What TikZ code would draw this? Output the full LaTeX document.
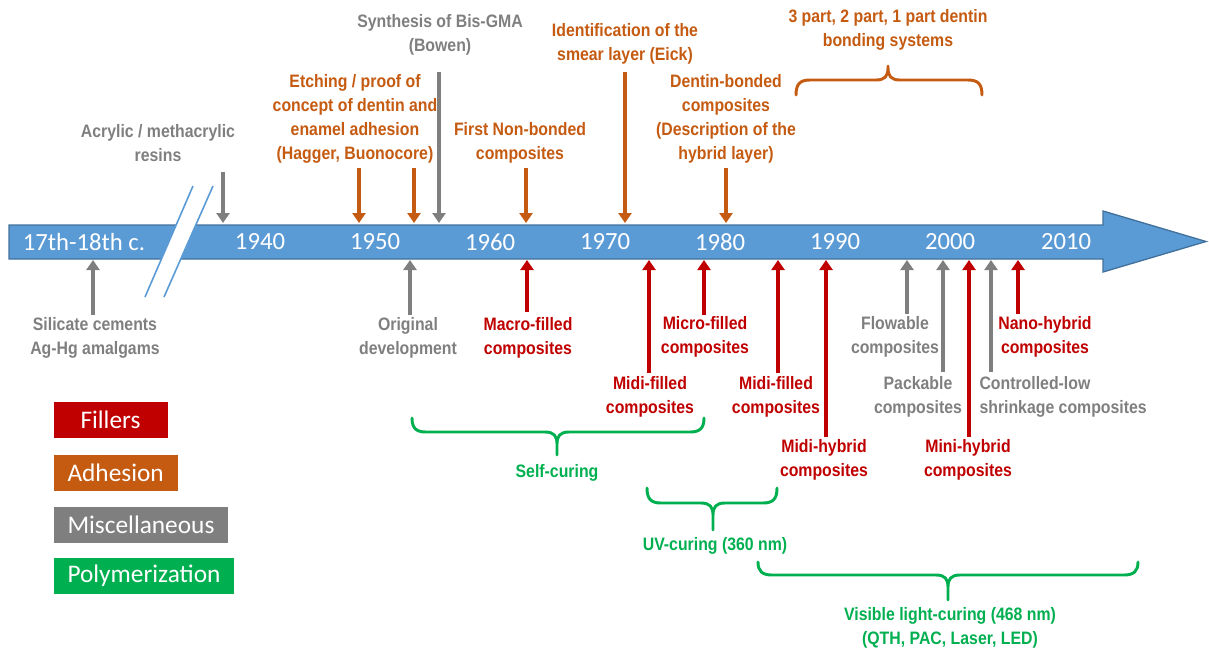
\documentclass[tikz,border=0pt]{standalone}
\usepackage{fontspec}
\setmainfont{Liberation Sans}
\newfontfamily\lblfont[FakeStretch=0.88]{Liberation Sans Bold}
\newfontfamily\calfont{Carlito}
\usetikzlibrary{arrows.meta}

\definecolor{fillred}{RGB}{192,0,0}
\definecolor{adhorange}{RGB}{197,90,17}
\definecolor{miscgrey}{RGB}{127,127,127}
\definecolor{polygreen}{RGB}{0,176,80}
\definecolor{barblue}{RGB}{91,155,213}
\definecolor{barline}{RGB}{65,113,156}

\tikzset{every picture/.style={line width=0.75pt},
  lbl/.style={font=\lblfont\fontsize{13.5}{18}\selectfont, align=center, inner sep=0pt},
  yr/.style={font=\calfont\fontsize{18.5}{20}\selectfont, text=white, inner sep=0pt},
  key/.style={font=\calfont\fontsize{19}{22}\selectfont, text=white, anchor=west, minimum width=85.5pt, minimum height=27pt, inner xsep=10.5pt},
  arr/.style={line width=2.6pt, -{Triangle[length=7.5pt,width=9.75pt]}},
  brc/.style={line width=2.2pt, line cap=round, line join=round}}

% brace: style, x left, x right, x tip, y ends, y flat part, y tip, direction (1 down, -1 up)
\newcommand{\tlbrace}[8]{%
  \draw[brc,#1] (#2,#5) .. controls (#2,#6-4*#8) and (#2+4,#6) .. (#2+14,#6) -- (#4-12,#6)
    .. controls (#4-3,#6) and (#4,#6+4*#8) .. (#4,#6+12*#8) -- (#4,#7) -- (#4,#6+12*#8)
    .. controls (#4,#6+4*#8) and (#4+3,#6) .. (#4+12,#6) -- (#3-14,#6)
    .. controls (#3-4,#6) and (#3,#6-4*#8) .. (#3,#5);}

\begin{document}
\begin{tikzpicture}[x=0.75pt,y=0.75pt,yscale=-1,xscale=1]
\useasboundingbox (0,0) rectangle (1209,651);

%Timeline bar
\draw[barline, fill=barblue, line width=1pt] (9,225) -- (1103,225) -- (1103,211) -- (1206,241.5) -- (1103,272) -- (1103,259) -- (9,259) -- cycle;
\coordinate (bartop) at (0,223);
\coordinate (barbot) at (0,260);
%Break
\fill[white] (145,297) -- (193,186) -- (213,186) -- (164,297) -- cycle;
\draw[barblue, line width=1.2pt] (145,297) -- (193,186);
\draw[barblue, line width=1.2pt] (164,297) -- (213,186);

%Years
\node[yr] (y17) at (84,242) {17th-18th c.};
\node[yr] (y40) at (260,242) {1940};
\node[yr] (y50) at (375,242) {1950};
\node[yr] (y60) at (490,242) {1960};
\node[yr] (y70) at (605,242) {1970};
\node[yr] (y80) at (720,242) {1980};
\node[yr] (y90) at (835,242) {1990};
\node[yr] (y00) at (950,242) {2000};
\node[yr] (y10) at (1066,242) {2010};

%Labels above
\node[lbl, text=miscgrey] (acr) at (158,143) {Acrylic / methacrylic\\resins};
\node[lbl, text=miscgrey] (bis) at (440,35) {Synthesis of Bis-GMA\\(Bowen)};
\node[lbl, text=adhorange] (etch) at (355,119) {Etching / proof of\\concept of dentin and\\enamel adhesion\\(Hagger, Buonocore)};
\node[lbl, text=adhorange] (first) at (520,143) {First Non-bonded\\composites};
\node[lbl, text=adhorange] (smear) at (625,44) {Identification of the\\smear layer (Eick)};
\node[lbl, text=adhorange] (dent) at (726,119) {Dentin-bonded\\composites\\(Description of the\\hybrid layer)};
\node[lbl, text=adhorange] (parts) at (888,30) {3 part, 2 part, 1 part dentin\\bonding systems};

%Labels below
\node[lbl, text=miscgrey] (sil) at (95,338) {Silicate cements\\Ag-Hg amalgams};
\node[lbl, text=miscgrey] (orig) at (408,338) {Original\\development};
\node[lbl, text=fillred] (macro) at (528,338) {Macro-filled\\composites};
\node[lbl, text=fillred] (micro) at (705,337) {Micro-filled\\composites};
\node[lbl, text=fillred] (midi1) at (650,397) {Midi-filled\\composites};
\node[lbl, text=fillred] (midi2) at (776,397) {Midi-filled\\composites};
\node[lbl, text=fillred] (midihyb) at (824,460) {Midi-hybrid\\composites};
\node[lbl, text=miscgrey] (flow) at (895,337) {Flowable\\composites};
\node[lbl, text=miscgrey] (pack) at (918,397) {Packable\\composites};
\node[lbl, text=miscgrey, align=left, anchor=west] (ctrl) at (979,397) {Controlled-low\\shrinkage composites};
\node[lbl, text=fillred] (nano) at (1045,337) {Nano-hybrid\\composites};
\node[lbl, text=fillred] (minihyb) at (968,460) {Mini-hybrid\\composites};

%Arrows down
\coordinate (aacr) at (223,172);
\coordinate (aetch1) at (359,168);
\coordinate (aetch2) at (414,168);
\coordinate (abis) at (439,72);
\coordinate (afirst) at (526,168);
\coordinate (asmear) at (625,72);
\coordinate (adent) at (726,168);
\draw[arr, miscgrey] (aacr) -- (aacr |- bartop);
\draw[arr, adhorange] (aetch1) -- (aetch1 |- bartop);
\draw[arr, adhorange] (aetch2) -- (aetch2 |- bartop);
\draw[arr, miscgrey] (abis) -- (abis |- bartop);
\draw[arr, adhorange] (afirst) -- (afirst |- bartop);
\draw[arr, adhorange] (asmear) -- (asmear |- bartop);
\draw[arr, adhorange] (adent) -- (adent |- bartop);

%Arrows up
\coordinate (asil) at (93,315);
\coordinate (aorig) at (410,315);
\coordinate (amacro) at (527,312);
\coordinate (amidi1) at (649,373);
\coordinate (amicro) at (704,315);
\coordinate (amidi2) at (778,373);
\coordinate (amidihyb) at (826,437);
\coordinate (aflow) at (907,314);
\coordinate (apack) at (943,372);
\coordinate (aminihyb) at (969,437);
\coordinate (actrl) at (991,372);
\coordinate (anano) at (1018,314);
\draw[arr, miscgrey] (asil) -- (asil |- barbot);
\draw[arr, miscgrey] (aorig) -- (aorig |- barbot);
\draw[arr, fillred] (amacro) -- (amacro |- barbot);
\draw[arr, fillred] (amidi1) -- (amidi1 |- barbot);
\draw[arr, fillred] (amicro) -- (amicro |- barbot);
\draw[arr, fillred] (amidi2) -- (amidi2 |- barbot);
\draw[arr, fillred] (amidihyb) -- (amidihyb |- barbot);
\draw[arr, miscgrey] (aflow) -- (aflow |- barbot);
\draw[arr, miscgrey] (apack) -- (apack |- barbot);
\draw[arr, fillred] (aminihyb) -- (aminihyb |- barbot);
\draw[arr, miscgrey] (actrl) -- (actrl |- barbot);
\draw[arr, fillred] (anano) -- (anano |- barbot);

%Braces
\tlbrace{adhorange}{796}{982}{888}{95}{80}{66}{-1}
\tlbrace{polygreen}{412}{704}{557}{418}{432}{455}{1}
\tlbrace{polygreen}{647}{777}{713}{488}{503}{530}{1}
\tlbrace{polygreen}{758}{1138}{948}{562}{575}{600}{1}
\node[lbl, text=polygreen] (self) at (557,473) {Self-curing};
\node[lbl, text=polygreen] (uv) at (715,546) {UV-curing (360 nm)};
\node[lbl, text=polygreen] (vis) at (950,628) {Visible light-curing (468 nm)\\(QTH, PAC, Laser, LED)};

%Legend
\node[key, fill=fillred] (kfill) at (53,420) {Fillers};
\node[key, fill=adhorange] (kadh) at (53,472.5) {Adhesion};
\node[key, fill=miscgrey] (kmisc) at (53,524.5) {Miscellaneous};
\node[key, fill=polygreen] (kpoly) at (53,576) {Polymerization};

\end{tikzpicture}
\end{document}
